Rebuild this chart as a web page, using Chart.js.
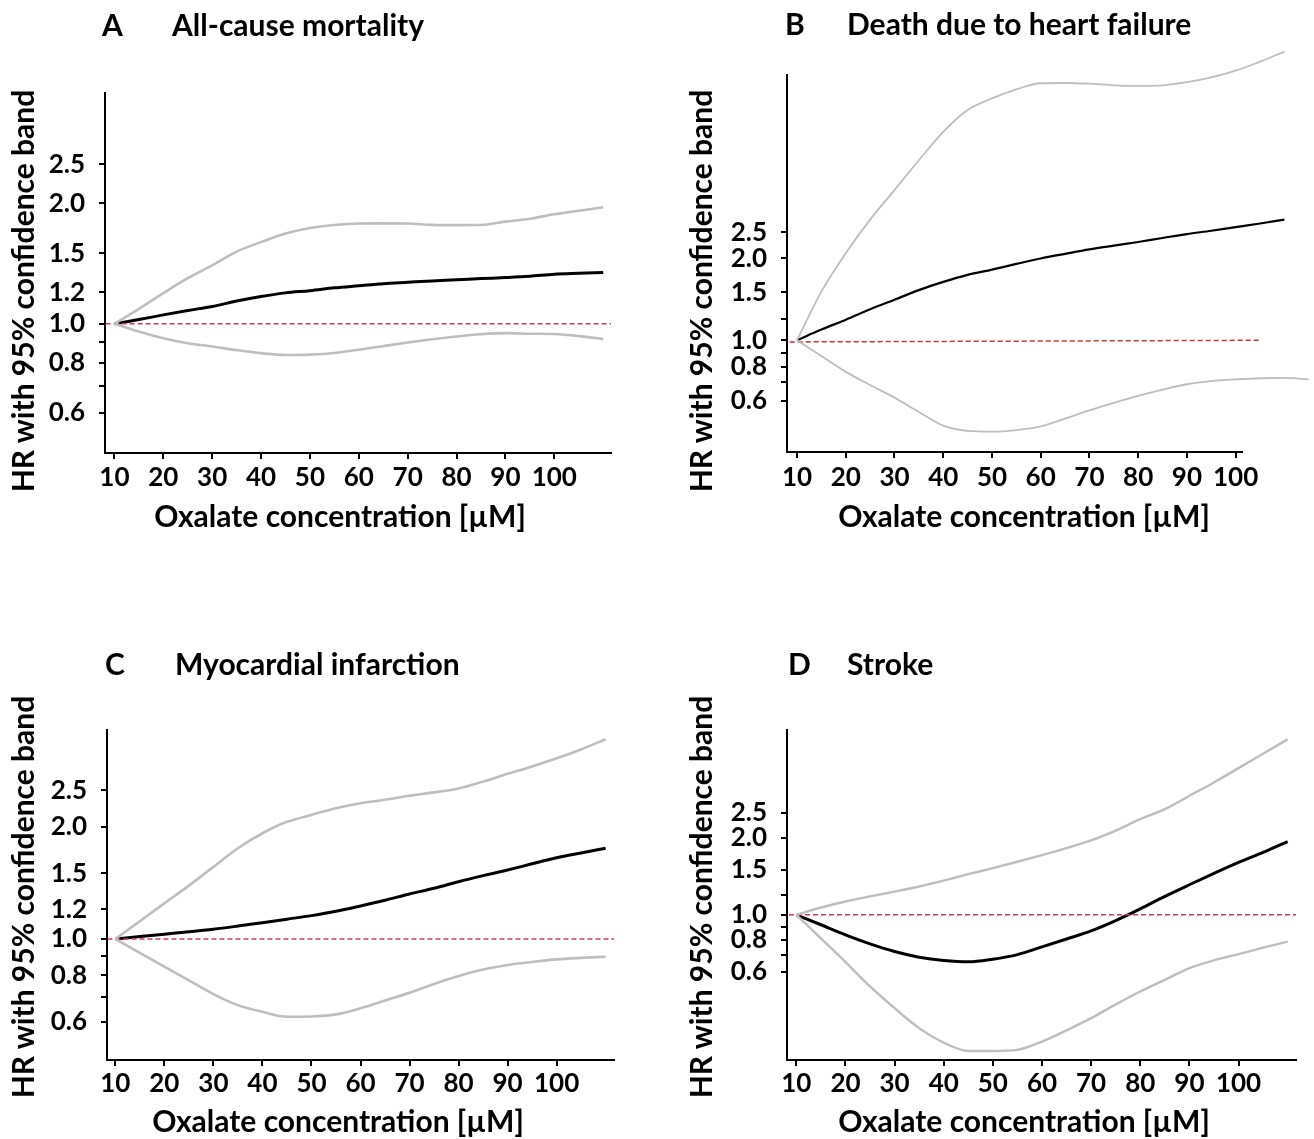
<!DOCTYPE html>
<html>
<head>
<meta charset="utf-8">
<script src="https://cdn.jsdelivr.net/npm/chart.js@4.4.1/dist/chart.umd.min.js"></script>
<style>
  body { margin: 0; background: #fff; }
  #page { position: relative; width: 1314px; height: 1139px; overflow: hidden;
          font-family: Lato, sans-serif; font-weight: bold; color: #000; }
  canvas { position: absolute; }
  .lbl { position: absolute; font-size: 30px; line-height: 30px; white-space: nowrap; }
  .ytitle { position: absolute; width: 440px; height: 30px; font-size: 30px; line-height: 30px;
            text-align: center; white-space: nowrap; transform: rotate(-90deg); }
  .xtitle { position: absolute; width: 440px; font-size: 30px; line-height: 30px;
            text-align: center; white-space: nowrap; }
</style>
</head>
<body>
<div id="page">
  <canvas id="chartA" width="657" height="570" style="left:0;top:0"></canvas>
  <canvas id="chartB" width="657" height="570" style="left:657px;top:0"></canvas>
  <canvas id="chartC" width="657" height="569" style="left:0;top:570px"></canvas>
  <canvas id="chartD" width="657" height="569" style="left:657px;top:570px"></canvas>

  <div class="lbl" style="left:102px;top:9px">A</div>
  <div class="lbl" style="left:172px;top:9px">All-cause mortality</div>
  <div class="lbl" style="left:785px;top:8px">B</div>
  <div class="lbl" style="left:847px;top:8px">Death due to heart failure</div>
  <div class="lbl" style="left:105px;top:648px">C</div>
  <div class="lbl" style="left:175px;top:648px">Myocardial infarction</div>
  <div class="lbl" style="left:788px;top:648px">D</div>
  <div class="lbl" style="left:847px;top:648px">Stroke</div>

  <div class="ytitle" style="left:-198px;top:276px">HR with 95% confidence band</div>
  <div class="ytitle" style="left:480px;top:276px">HR with 95% confidence band</div>
  <div class="ytitle" style="left:-198px;top:882px">HR with 95% confidence band</div>
  <div class="ytitle" style="left:480px;top:882px">HR with 95% confidence band</div>

  <div class="xtitle" style="left:120px;top:500px">Oxalate concentration [µM]</div>
  <div class="xtitle" style="left:804px;top:500px">Oxalate concentration [µM]</div>
  <div class="xtitle" style="left:118px;top:1105px">Oxalate concentration [µM]</div>
  <div class="xtitle" style="left:804px;top:1105px">Oxalate concentration [µM]</div>
</div>

<script>
const concentration  = [10, 15, 20, 25, 30, 35, 40, 45, 50, 55, 60, 65, 70, 75, 80, 85, 90, 95, 100, 105, 110];
const concentrationB = [10, 15, 20, 25, 30, 35, 40, 45, 50, 55, 60, 65, 70, 75, 80, 85, 90, 95, 100, 105, 110, 115];

// A - all-cause mortality
const mortalityHR    = [1.0, 1.025, 1.053, 1.08, 1.105, 1.14, 1.17, 1.195, 1.21, 1.23, 1.245, 1.26, 1.27, 1.28, 1.288, 1.297, 1.305, 1.315, 1.33, 1.337, 1.343];
const mortalityUpper = [1.0, 1.09, 1.193, 1.30, 1.40, 1.515, 1.60, 1.68, 1.735, 1.765, 1.78, 1.782, 1.78, 1.767, 1.764, 1.765, 1.80, 1.83, 1.878, 1.915, 1.955];
const mortalityLower = [1.0, 0.957, 0.921, 0.895, 0.878, 0.86, 0.845, 0.836, 0.838, 0.846, 0.862, 0.88, 0.898, 0.915, 0.93, 0.942, 0.948, 0.945, 0.943, 0.932, 0.916];

// B - death due to heart failure
const heartFailureHR    = [1.0, 1.095, 1.19, 1.30, 1.41, 1.53, 1.64, 1.74, 1.82, 1.91, 2.0, 2.08, 2.16, 2.23, 2.30, 2.38, 2.46, 2.53, 2.61, 2.69, 2.78, null];
const heartFailureUpper = [1.0, 1.51, 2.09, 2.78, 3.57, 4.6, 5.85, 7.04, 7.77, 8.39, 8.83, 8.85, 8.8, 8.68, 8.64, 8.68, 8.91, 9.28, 9.82, 10.6, 11.55, null];
const heartFailureLower = [1.0, 0.875, 0.765, 0.685, 0.615, 0.545, 0.485, 0.464, 0.461, 0.467, 0.482, 0.515, 0.552, 0.588, 0.624, 0.658, 0.689, 0.708, 0.718, 0.725, 0.727, 0.718];

// C - myocardial infarction
const infarctionHR    = [1.0, 1.015, 1.03, 1.045, 1.062, 1.083, 1.106, 1.13, 1.155, 1.186, 1.226, 1.27, 1.32, 1.367, 1.424, 1.478, 1.531, 1.59, 1.65, 1.70, 1.75];
const infarctionUpper = [1.0, 1.116, 1.246, 1.39, 1.56, 1.75, 1.92, 2.06, 2.15, 2.24, 2.31, 2.36, 2.42, 2.47, 2.53, 2.64, 2.77, 2.90, 3.05, 3.22, 3.43];
const infarctionLower = [1.0, 0.918, 0.843, 0.775, 0.712, 0.665, 0.638, 0.619, 0.62, 0.628, 0.652, 0.684, 0.718, 0.758, 0.796, 0.828, 0.852, 0.868, 0.882, 0.89, 0.896];

// D - stroke
const strokeHR    = [1.0, 0.915, 0.836, 0.771, 0.72, 0.684, 0.664, 0.656, 0.672, 0.70, 0.75, 0.805, 0.866, 0.95, 1.055, 1.18, 1.31, 1.45, 1.60, 1.75, 1.93];
const strokeUpper = [1.0, 1.068, 1.127, 1.18, 1.232, 1.29, 1.36, 1.44, 1.52, 1.61, 1.71, 1.82, 1.95, 2.13, 2.36, 2.58, 2.91, 3.28, 3.73, 4.24, 4.83];
const strokeLower = [1.0, 0.81, 0.655, 0.526, 0.433, 0.362, 0.318, 0.295, 0.295, 0.298, 0.321, 0.355, 0.396, 0.448, 0.503, 0.558, 0.62, 0.665, 0.703, 0.745, 0.787];

// HR = 1 reference line (start and end concentration)
const refSpanA = [8.2, 111.6];
const refSpanB = [8.5, 105];
const refSpanC = [8.4, 111.7];
const refSpanD = [8.5, 111.7];
const refHR  = [1, 1];
const refHRB = [0.986, 1];

// axis ticks
const xTicks = [10, 20, 30, 40, 50, 60, 70, 80, 90, 100];
const yTicks = [0.6, 0.7, 0.8, 0.9, 1.0, 1.2, 1.5, 2.0, 2.5];
const yLabelsFull  = ['0.6', '', '0.8', '', '1.0', '1.2', '1.5', '2.0', '2.5'];
const yLabelsShort = ['0.6', '', '0.8', '', '1.0', '', '1.5', '2.0', '2.5'];

Chart.defaults.font.family = 'Lato';

const GREY = '#bebebe';
const tickFont = { family: 'Lato', size: 26, weight: 'bold' };

function points(xs, ys) {
  return xs.map((x, i) => ({ x: x, y: ys[i] }));
}

function drawPanel(id, o) {
  const axisGrid = {
    display: true, drawOnChartArea: false, drawTicks: true,
    tickLength: 6, tickWidth: 2, tickColor: '#000', lineWidth: 2, color: '#000'
  };
  const axisBorder = { display: true, color: '#000', width: 2 };

  new Chart(document.getElementById(id), {
    type: 'line',
    data: {
      datasets: [
        { data: points(o.x, o.lower), borderColor: GREY, borderWidth: o.ciWidth },
        { data: points(o.x, o.upper), borderColor: GREY, borderWidth: o.ciWidth },
        { data: points(o.refX, o.refY), borderColor: o.refColor, borderWidth: 1.5,
          borderDash: [5, 3], cubicInterpolationMode: 'default', tension: 0 },
        { data: points(o.x, o.hr), borderColor: '#000', borderWidth: o.hrWidth }
      ]
    },
    options: {
      responsive: false,
      animation: false,
      devicePixelRatio: 1,
      layout: { padding: o.pad },
      datasets: {
        line: { pointRadius: 0, clip: false, fill: false, cubicInterpolationMode: 'monotone' }
      },
      plugins: { legend: { display: false }, tooltip: { enabled: false } },
      scales: {
        x: {
          type: 'linear',
          bounds: 'data',
          afterDataLimits: s => { s.min = o.xMin; s.max = o.xMax; },
          afterBuildTicks: s => { s.ticks = xTicks.map(v => ({ value: v })); },
          afterFit: s => { s.height = 50; },
          grid: axisGrid,
          border: axisBorder,
          ticks: { color: '#000', font: tickFont, padding: o.xPad, autoSkip: false, maxRotation: 0,
                   callback: v => String(v) }
        },
        y: {
          type: 'logarithmic',
          min: o.yMin,
          max: o.yMax,
          afterBuildTicks: s => { s.ticks = yTicks.map(v => ({ value: v })); },
          afterFit: s => { s.width = 60; },
          grid: axisGrid,
          border: axisBorder,
          ticks: { color: '#000', font: tickFont, padding: 14, autoSkip: false,
                   callback: (v, i) => o.yLabels[i] }
        }
      }
    }
  });
}

drawPanel('chartA', {
  x: concentration, hr: mortalityHR, upper: mortalityUpper, lower: mortalityLower,
  refX: refSpanA, refY: refHR, refColor: '#c93a62',
  xMin: 8.07, xMax: 111.6, yMin: 0.476, yMax: 3.77, yLabels: yLabelsFull,
  hrWidth: 3, ciWidth: 2.6, xPad: 3,
  pad: { left: 45, top: 93, right: 46, bottom: 67 }
});

drawPanel('chartB', {
  x: concentrationB, hr: heartFailureHR, upper: heartFailureUpper, lower: heartFailureLower,
  refX: refSpanB, refY: refHRB, refColor: '#cc3333',
  xMin: 7.95, xMax: 101.3, yMin: 0.388, yMax: 9.47, yLabels: yLabelsShort,
  hrWidth: 2.2, ciWidth: 1.8, xPad: 4,
  pad: { left: 70, top: 75, right: 72, bottom: 68 }
});

drawPanel('chartC', {
  x: concentration, hr: infarctionHR, upper: infarctionUpper, lower: infarctionLower,
  refX: refSpanC, refY: refHR, refColor: '#c93a62',
  xMin: 8.3, xMax: 111.7, yMin: 0.474, yMax: 3.63, yLabels: yLabelsFull,
  hrWidth: 3, ciWidth: 2.6, xPad: 2,
  pad: { left: 47, top: 160, right: 43, bottom: 29 }
});

drawPanel('chartD', {
  x: concentration, hr: strokeHR, upper: strokeUpper, lower: strokeLower,
  refX: refSpanD, refY: refHR, refColor: '#c93a62',
  xMin: 8.1, xMax: 111.7, yMin: 0.272, yMax: 5.25, yLabels: yLabelsShort,
  hrWidth: 3, ciWidth: 2.4, xPad: 2,
  pad: { left: 70, top: 160, right: 18, bottom: 29 }
});
</script>
</body>
</html>
